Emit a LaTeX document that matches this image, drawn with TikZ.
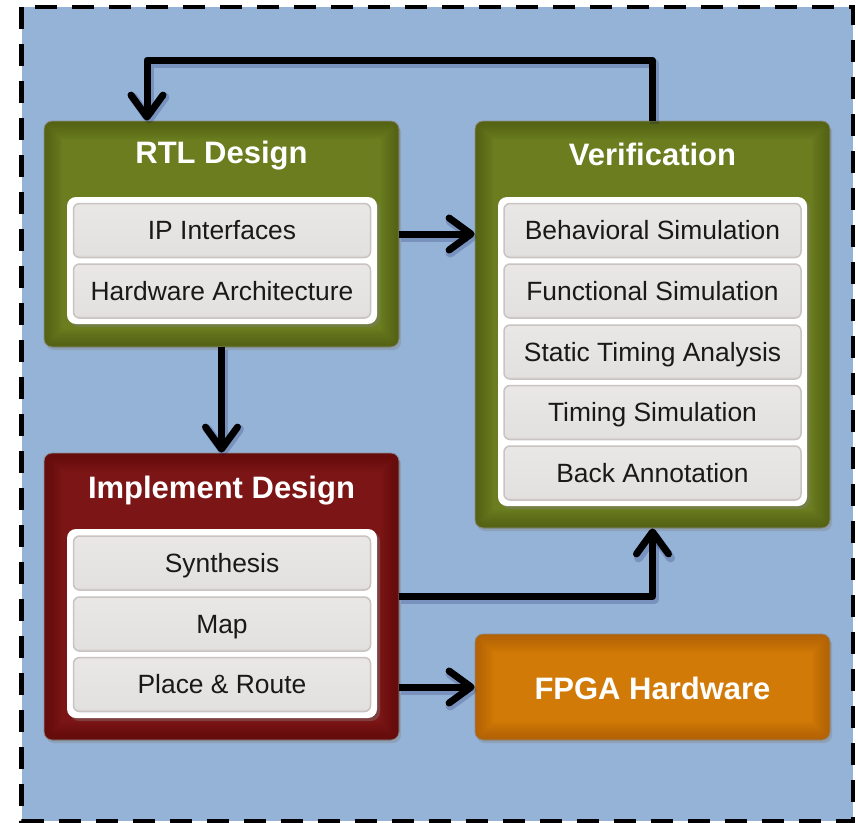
\documentclass[tikz,border=0pt]{standalone}
\usepackage{fontspec}
\setmainfont{Liberation Sans}
\usetikzlibrary{arrows.meta,shadows,calc}
\definecolor{bgblue}{HTML}{94B3D7}
\definecolor{gin}{HTML}{6B7D1F}
\definecolor{gout}{HTML}{4A5712}
\definecolor{rin}{HTML}{7C1515}
\definecolor{rout}{HTML}{5A0C0C}
\definecolor{oin}{HTML}{D27A08}
\definecolor{oout}{HTML}{A35805}
\definecolor{ibot}{HTML}{D6D2D0}
\definecolor{ibotb}{HTML}{DBD7D5}
\definecolor{imid}{HTML}{E3E1E0}
\definecolor{itop}{HTML}{ECEBEA}
\definecolor{iedge}{HTML}{C9C3C1}
\pgfdeclareverticalshading{itemshade}{100bp}{color(0bp)=(ibot); color(26bp)=(ibotb); color(28bp)=(imid); color(100bp)=(itop)}
\tikzset{
  bigbox/.style={rectangle, rounded corners=8pt, draw=black!45, line width=0.8pt,
    minimum width=355pt, inner sep=0pt,
    drop shadow={shadow xshift=2pt, shadow yshift=-3pt, opacity=0.35}},
  glow/.style={path picture={
    \foreach \w in {3,6,...,36}
      \draw[#1, opacity=0.07, line width=\w pt]
        (path picture bounding box.south west) rectangle (path picture bounding box.north east);}},
  greenbox/.style={bigbox, fill=gin, glow=gout},
  redbox/.style={bigbox, fill=rin, glow=rout},
  orangebox/.style={bigbox, fill=oin, glow=oout},
  boxtitle/.style={text=white, font=\fontsize{31}{36}\selectfont\bfseries, inner sep=0pt, anchor=base},
  panel/.style={rectangle, rounded corners=9pt, fill=white, minimum width=310pt, inner sep=0pt,
    drop shadow={shadow xshift=3pt, shadow yshift=-3pt, opacity=0.4}},
  item/.style={rectangle, rounded corners=6pt, draw=iedge, line width=1.5pt, shading=itemshade,
    minimum width=297pt, minimum height=54pt, inner sep=0pt, text=black!90,
    text height=18pt, text depth=0pt,
    font=\fontsize{26.4}{30}\selectfont},
  flowmain/.style={line width=7pt, line join=round, draw=black,
    -{Straight Barb[length=22pt,width=32pt,round]}},
  flowsh/.style={line width=9pt, line join=round, draw=black!70!blue, opacity=0.18,
    transform canvas={xshift=2pt,yshift=-3pt},
    -{Straight Barb[length=22pt,width=32pt,round]}}
}
\newcommand\flowline[1]{\draw[flowsh] #1; \draw[flowmain] #1;}
\begin{document}
\begin{tikzpicture}[x=1pt,y=-1pt]
\useasboundingbox (0,0) rectangle (858,822);
\draw[line width=4.5pt, dash pattern=on 22pt off 15pt, fill=bgblue] (21.5,7) rectangle (853,821);

% boxes
\node[greenbox, minimum height=226pt] (rtl) at (221.5,234) {};
\node[greenbox, minimum height=407pt] (ver) at (652.5,324.5) {};
\node[redbox, minimum height=287pt] (impl) at (221.5,596.5) {};
\node[orangebox, minimum height=106pt] (fpga) at (652.5,687) {};

% titles
\node[boxtitle] (rtlt) at (221.5,163) {RTL Design};
\node[boxtitle] (vert) at (652.5,165) {Verification};
\node[boxtitle] (implt) at (221.5,498) {Implement Design};
\node[boxtitle] (fpgat) at (652.5,699) {FPGA Hardware};

% panels
\node[panel, minimum height=127pt] (rtlp) at (222,260.5) {};
\node[panel, minimum height=309pt, minimum width=309pt] (verp) at (652.5,351.5) {};
\node[panel, minimum height=189pt] (implp) at (222,623.5) {};

% items
\node[item] (ip) at (222,230.5) {IP Interfaces};
\node[item] (hw) at (222,291) {Hardware Architecture};
\node[item] (beh) at (652.5,230.5) {Behavioral Simulation};
\node[item] (fun) at (652.5,291) {Functional Simulation};
\node[item] (sta) at (652.5,352) {Static Timing Analysis};
\node[item] (tim) at (652.5,412.5) {Timing Simulation};
\node[item] (back) at (652.5,473) {Back Annotation};
\node[item] (syn) at (222,563) {Synthesis};
\node[item] (map) at (222,624) {Map};
\node[item] (par) at (222,684.5) {Place \& Route};

% connectors
\coordinate (loopR) at (652.5,60);
\coordinate (loopL) at (147,60);
\flowline{(ver.north) -- (loopR) -- (loopL) -- (rtl.north -| loopL)}
\flowline{(rtl.east) -- (rtl.east -| ver.west)}
\flowline{(rtl.south) -- (impl.north)}
\flowline{(impl.east) -| (ver.south)}
\flowline{(fpga.west -| impl.east) -- (fpga.west)}
\end{tikzpicture}
\end{document}
